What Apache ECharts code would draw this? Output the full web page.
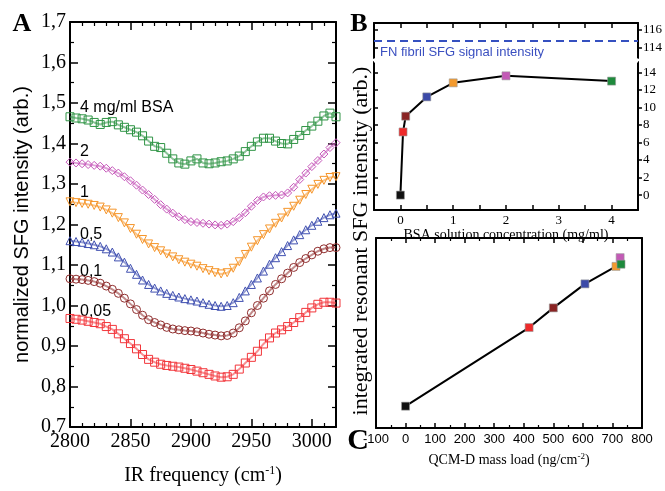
<!DOCTYPE html>
<html><head><meta charset="utf-8">
<script src="https://cdn.jsdelivr.net/npm/echarts@6.0.0/dist/echarts.min.js"></script>
<style>html,body{margin:0;padding:0;background:#fff}#c{width:665px;height:491px}</style>
</head><body><div id="c"></div>
<script>
// ---------- Panel A: SFG spectra ----------
const freqA = [2800,2805,2810,2815,2820,2825,2830,2835,2840,2845,2850,2855,2860,2865,2870,2875,2880,2885,2890,2895,2900,2905,2910,2915,2920,2925,2930,2935,2940,2945,2950,2955,2960,2965,2970,2975,2980,2985,2990,2995,3000,3005,3010,3015,3020];
const bsa005 = [.968,.966,.964,.961,.958,.955,.948,.941,.930,.918,.906,.893,.879,.867,.860,.855,.852,.850,.848,.845,.842,.838,.834,.830,.826,.823,.824,.830,.843,.858,.872,.887,.905,.920,.932,.940,.948,.958,.970,.983,.994,1.003,1.008,1.008,1.006];
const bsa01 = [1.066,1.065,1.064,1.062,1.059,1.055,1.048,1.040,1.030,1.018,1.004,.990,.976,.965,.958,.952,.946,.942,.940,.938,.937,.935,.932,.929,.927,.925,.926,.932,.945,.962,.982,1.000,1.018,1.036,1.052,1.066,1.080,1.094,1.106,1.116,1.125,1.134,1.140,1.143,1.143];
const bsa05 = [1.160,1.158,1.156,1.153,1.150,1.146,1.140,1.132,1.120,1.107,1.092,1.077,1.063,1.052,1.043,1.036,1.030,1.025,1.021,1.017,1.014,1.011,1.007,1.003,1.000,.998,1.000,1.007,1.020,1.036,1.052,1.068,1.085,1.102,1.118,1.133,1.148,1.162,1.175,1.187,1.198,1.208,1.217,1.224,1.228];
const bsa1 = [1.256,1.254,1.252,1.250,1.247,1.243,1.236,1.228,1.217,1.204,1.190,1.176,1.163,1.152,1.143,1.135,1.127,1.120,1.113,1.107,1.102,1.097,1.091,1.086,1.081,1.078,1.081,1.092,1.108,1.126,1.144,1.160,1.175,1.189,1.203,1.216,1.230,1.245,1.260,1.274,1.287,1.299,1.309,1.316,1.318];
const bsa2 = [1.354,1.352,1.350,1.348,1.346,1.344,1.339,1.333,1.327,1.318,1.308,1.297,1.285,1.274,1.262,1.249,1.238,1.228,1.219,1.212,1.207,1.205,1.203,1.201,1.199,1.198,1.201,1.207,1.217,1.229,1.245,1.259,1.268,1.271,1.272,1.273,1.278,1.292,1.311,1.327,1.343,1.358,1.374,1.390,1.402];
const bsa4 = [1.466,1.463,1.461,1.458,1.452,1.447,1.452,1.454,1.446,1.440,1.434,1.428,1.419,1.406,1.393,1.390,1.376,1.362,1.352,1.349,1.357,1.362,1.352,1.350,1.352,1.355,1.357,1.362,1.369,1.380,1.393,1.404,1.413,1.413,1.406,1.400,1.399,1.410,1.420,1.432,1.443,1.455,1.468,1.475,1.466];
const curveNames = ['0,05','0,1','0,5','1','2','4 mg/ml BSA'];

// ---------- Panel B / C ----------
const concB = [0, 0.05, 0.1, 0.5, 1, 2, 4];
const sfgB  = [0, 7.2, 9.0, 11.2, 12.8, 13.6, 13.0];
const massC = [0, 418, 500, 607, 712, 726, 729];
const fibrilLevel = 114.8;
const ticksB = [0,2,4,6,8,10,12,14,114,116];

// styles
const curveColors = ['#f2353a','#8e2b2b','#3f4fb0','#f5952a','#c455b8','#2f9445'];
const curveSymbols = ['rect','circle','triangle','triangle','diamond','rect'];
const curveRot = [0,0,0,180,0,0];
const pointColors = ['#111111','#ee2a2a','#8a2424','#3c4aa8','#f39a2e','#c35ab6','#1e8a3c'];

const SER = 'Liberation Serif', SANS = 'Liberation Sans';
const axLine = {show:true, onZero:false, lineStyle:{color:'#000', width:2}};
const tickIn = (len) => ({show:true, inside:true, length:len, lineStyle:{color:'#000', width:1.5}});
const minorIn = (n, len) => ({show:true, splitNumber:n, length:len, lineStyle:{color:'#000', width:1.2}});

const curves = [bsa005, bsa01, bsa05, bsa1, bsa2, bsa4];
const seriesA = curves.map((arr, k) => ({
  type:'line', xAxisIndex:0, yAxisIndex:0, name:curveNames[k],
  data: freqA.map((f,i)=>[f, arr[i]]),
  symbol: curveSymbols[k], symbolRotate: curveRot[k], symbolSize: 8, showAllSymbol:true,
  itemStyle:{color:'rgba(0,0,0,0)', borderColor:curveColors[k], borderWidth:1},
  lineStyle:{color:curveColors[k], width:2, opacity:0.55},
  silent:true, animation:false
}));

const option = {
  animation:false,
  grid:[
    {left:70, top:22, width:266, height:408},
    {left:374, top:23, width:267, height:187},
    {left:376, top:238, width:266, height:190}
  ],
  xAxis:[
    {type:'value', gridIndex:0, min:2800, max:3020, interval:50, axisLine:axLine,
     axisTick:tickIn(8), minorTick:minorIn(5,4), splitLine:{show:false}, minorSplitLine:{show:false},
     axisLabel:{fontFamily:SER, fontSize:20, color:'#000', margin:5, formatter:v => String(v)},
     name:'IR frequency (cm{sup|-1})', nameLocation:'middle', nameGap:38,
     nameTextStyle:{fontFamily:SER, fontSize:20, color:'#000',
       rich:{sup:{fontFamily:SER, fontSize:12, color:'#000', verticalAlign:'top', padding:[0,0,10,0]}}}},
    {type:'value', gridIndex:0, position:'top', min:2800, max:3020, interval:50, axisLine:axLine,
     axisTick:tickIn(8), minorTick:minorIn(5,4), splitLine:{show:false}, axisLabel:{show:false}},
    {type:'value', gridIndex:1, min:-0.5, max:4.5, interval:0.5, axisLine:axLine,
     axisTick:tickIn(5), splitLine:{show:false},
     axisLabel:{fontFamily:SER, fontSize:13, color:'#000', margin:4,
       formatter:v => (Math.abs(v-Math.round(v))<1e-6 && v>=0) ? String(Math.round(v)) : ''},
     name:'BSA solution concentration (mg/ml)', nameLocation:'middle', nameGap:13,
     nameTextStyle:{fontFamily:SER, fontSize:14, color:'#000'}},
    {type:'value', gridIndex:1, position:'top', min:-0.5, max:4.5, interval:0.5, axisLine:axLine,
     axisTick:tickIn(5), splitLine:{show:false}, axisLabel:{show:false}},
    {type:'value', gridIndex:2, min:-100, max:800, interval:100, axisLine:axLine,
     axisTick:tickIn(5), minorTick:minorIn(2,3), splitLine:{show:false},
     axisLabel:{fontFamily:SANS, fontSize:13, color:'#000', margin:5, formatter:v => String(v)},
     name:'QCM-D mass load (ng/cm{sup|-2})', nameLocation:'middle', nameGap:24,
     nameTextStyle:{fontFamily:SER, fontSize:14, color:'#000',
       rich:{sup:{fontFamily:SER, fontSize:9, color:'#000', verticalAlign:'top', padding:[0,0,7,0]}}}},
    {type:'value', gridIndex:2, position:'top', min:-100, max:800, interval:100, axisLine:axLine,
     axisTick:tickIn(5), minorTick:minorIn(2,3), splitLine:{show:false}, axisLabel:{show:false}}
  ],
  yAxis:[
    {type:'value', gridIndex:0, min:0.7, max:1.7, interval:0.1, axisLine:axLine,
     axisTick:tickIn(8), minorTick:minorIn(2,4), splitLine:{show:false},
     axisLabel:{fontFamily:SER, fontSize:20, color:'#000', margin:4,
       formatter:v => v.toFixed(1).replace('.', ',')},
     name:'normalized SFG intensity (arb.)', nameLocation:'middle', nameGap:38,
     nameTextStyle:{fontFamily:SANS, fontSize:20, color:'#000'}},
    {type:'value', gridIndex:0, position:'right', min:0.7, max:1.7, interval:0.1, axisLine:axLine,
     axisTick:tickIn(8), minorTick:minorIn(2,4), splitLine:{show:false}, axisLabel:{show:false}},
    {type:'value', gridIndex:1, position:'right', min:-1.7, max:116.8,
     breaks:[{start:15.2, end:112.8, gap:'2%'}],
     breakArea:{show:true, expandOnClick:false, zigzagAmplitude:0,
       itemStyle:{color:'#fff', borderColor:'rgba(0,0,0,0)', borderWidth:0, opacity:1}},
     axisLine:axLine,
     axisTick:{show:true, inside:false, length:4, customValues:ticksB, lineStyle:{color:'#000', width:1.5}},
     splitLine:{show:false},
     axisLabel:{customValues:ticksB, fontFamily:SER, fontSize:13, color:'#000', margin:5}},
    {type:'value', gridIndex:1, position:'left', min:-1.7, max:116.8,
     breaks:[{start:15.2, end:112.8, gap:'2%'}],
     breakArea:{show:false},
     axisLine:axLine,
     axisTick:{show:true, inside:true, length:4, customValues:ticksB, lineStyle:{color:'#000', width:1.5}},
     splitLine:{show:false}, axisLabel:{show:false}},
    {type:'value', gridIndex:2, min:-2, max:15.4, axisLine:axLine,
     axisTick:{show:false}, splitLine:{show:false}, axisLabel:{show:false}},
    {type:'value', gridIndex:2, position:'right', min:-2, max:15.4, axisLine:axLine,
     axisTick:{show:false}, splitLine:{show:false}, axisLabel:{show:false}}
  ],
  series: seriesA.concat([
    {type:'line', xAxisIndex:2, yAxisIndex:2,
     data: concB.map((c,i)=>({value:[c, sfgB[i]], itemStyle:{color:pointColors[i]}})),
     symbol:'rect', symbolSize:8, lineStyle:{color:'#000', width:2},
     itemStyle:{borderColor:'#999', borderWidth:0.6},
     markLine:{silent:true, symbol:'none', animation:false,
       data:[{yAxis:fibrilLevel}],
       lineStyle:{color:'#3550c0', type:[8,5], width:2},
       label:{show:true, formatter:'FN fibril SFG signal intensity', position:'insideStartBottom',
         color:'#3a4fc0', fontFamily:SANS, fontSize:13, distance:[6,5]}}},
    {type:'line', xAxisIndex:4, yAxisIndex:4,
     data: massC.map((m,i)=>({value:[m, sfgB[i]], itemStyle:{color:pointColors[i]}})),
     symbol:'rect', symbolSize:8, lineStyle:{color:'#000', width:2},
     itemStyle:{borderColor:'#999', borderWidth:0.6}}
  ]),
  graphic:[
    {type:'text', x:22, y:24, style:{text:'A', font:'bold 26px "Liberation Serif"', fill:'#000', align:'center', verticalAlign:'middle'}},
    {type:'text', x:359, y:24, style:{text:'B', font:'bold 26px "Liberation Serif"', fill:'#000', align:'center', verticalAlign:'middle'}},
    {type:'text', x:358, y:441, style:{text:'C', font:'bold 30px "Liberation Serif"', fill:'#000', align:'center', verticalAlign:'middle'}},
    {type:'text', x:361, y:241, rotation:Math.PI/2, style:{text:'integrated resonant SFG intensity (arb.)', font:'22px "Liberation Serif"', fill:'#000', align:'center', verticalAlign:'middle'}},
    {type:'text', x:80, y:108, style:{text:curveNames[5], font:'16px "Liberation Sans"', fill:'#000', align:'left', verticalAlign:'middle'}},
    {type:'text', x:80, y:152, style:{text:curveNames[4], font:'16px "Liberation Sans"', fill:'#000', align:'left', verticalAlign:'middle'}},
    {type:'text', x:80, y:193, style:{text:curveNames[3], font:'16px "Liberation Sans"', fill:'#000', align:'left', verticalAlign:'middle'}},
    {type:'text', x:80, y:235, style:{text:curveNames[2], font:'16px "Liberation Sans"', fill:'#000', align:'left', verticalAlign:'middle'}},
    {type:'text', x:80, y:272, style:{text:curveNames[1], font:'16px "Liberation Sans"', fill:'#000', align:'left', verticalAlign:'middle'}},
    {type:'text', x:80, y:312, style:{text:curveNames[0], font:'16px "Liberation Sans"', fill:'#000', align:'left', verticalAlign:'middle'}}
  ]
};
const chart = echarts.init(document.getElementById('c'), null, {renderer:'canvas'});
chart.setOption(option);
</script>
</body></html>
